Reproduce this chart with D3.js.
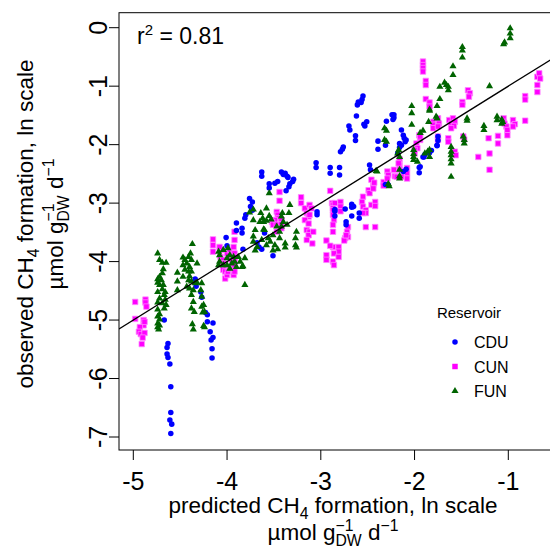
<!DOCTYPE html>
<html>
<head>
<meta charset="utf-8">
<script src="https://cdn.jsdelivr.net/npm/d3@7"></script>
<style>
  body { margin: 0; background: #fff; }
  svg text { font-family: "Liberation Sans", Arial, sans-serif; fill: #000; white-space: pre; }
</style>
</head>
<body>
<svg id="chart" width="550" height="547"></svg>
<script>
/*** DATA (predicted, observed) in ln units ***/

let cdu = [
  [-4.67,-5.00],[-4.63,-5.40],[-4.64,-5.47],[-4.64,-5.58],[-4.63,-5.64],[-4.61,-5.75],[-4.60,-6.14],[-4.60,-6.58],
  [-4.61,-6.71],[-4.59,-6.78],[-4.60,-6.94],[-4.34,-4.30],[-4.33,-4.42],[-4.28,-4.52],[-4.27,-4.61],[-4.23,-4.87],
  [-4.21,-4.91],[-4.21,-5.03],[-4.15,-5.05],[-4.18,-5.20],[-4.15,-5.30],[-4.17,-5.34],[-4.16,-5.49],[-4.16,-5.65],
  [-4.00,-3.73],[-3.63,-2.47],[-3.63,-2.54],[-3.55,-2.67],[-3.55,-2.74],[-3.49,-2.66],[-3.46,-2.63],[-3.42,-2.47],
  [-3.40,-2.51],[-3.38,-2.49],[-3.36,-2.54],[-3.35,-2.56],[-3.33,-2.67],[-3.34,-2.72],[-3.29,-2.59],[-3.30,-2.63],
  [-3.37,-2.79],[-3.05,-2.31],[-3.05,-2.39],[-2.90,-2.39],[-2.90,-2.49],[-2.80,-2.39],[-2.80,-2.52],[-3.76,-2.92],
  [-3.73,-2.98],[-3.75,-3.06],[-3.73,-3.12],[-3.80,-3.20],[-3.81,-3.26],[-3.90,-3.34],[-3.84,-3.43],[-3.84,-3.51],
  [-3.90,-3.47],[-4.01,-3.59],[-3.60,-3.51],[-3.68,-3.68],[-3.66,-3.75],[-3.63,-3.79],[-3.83,-3.79],[-3.51,-3.90],
  [-3.04,-3.15],[-3.04,-3.20],[-2.55,-1.17],[-2.56,-1.23],[-2.57,-1.28],[-2.61,-1.32],[-2.60,-1.27],[-2.62,-1.51],
  [-2.51,-1.61],[-2.53,-1.68],[-2.54,-1.65],[-2.70,-1.68],[-2.69,-1.75],[-2.63,-1.85],[-2.63,-1.93],[-2.76,-2.04],
  [-2.77,-2.08],[-2.79,-2.12],[-2.48,-2.35],[-2.47,-2.43],[-2.39,-1.94],[-2.39,-2.08],[-2.31,-2.01],[-2.30,-1.60],
  [-2.24,-1.49],[-2.22,-1.49],[-2.22,-1.54],[-2.23,-1.57],[-2.14,-1.75],[-2.12,-1.84],[-2.11,-1.89],[-2.09,-1.92],
  [-2.16,-1.98],[-2.14,-2.01],[-2.16,-2.05],[-2.10,-1.95],[-2.18,-2.15],[-2.09,-2.42],[-2.12,-2.46],[-1.95,-2.39],
  [-1.95,-2.48],[-2.28,-2.69],[-1.91,-2.21],[-2.85,-3.11],[-2.85,-3.14],[-2.85,-3.22],[-2.74,-3.10],[-2.67,-3.02],
  [-2.67,-3.07],[-2.65,-3.06],[-2.67,-3.22],[-2.73,-3.32],[-2.73,-3.37],[-2.59,-3.17],[-2.59,-3.26],[-2.31,-2.68],
  [-1.75,-1.86],[-1.75,-1.93],[-1.76,-2.01],[-1.76,-2.02],[-1.82,-2.10],[-1.84,-2.14],[-1.89,-2.17],[-1.90,-2.21],
  [-1.94,-2.38]
];

let cun = [
  [-4.98,-4.69],[-4.87,-4.65],[-4.87,-4.70],[-4.86,-4.77],[-4.98,-4.98],[-4.89,-5.00],[-4.89,-5.09],[-4.88,-5.03],
  [-4.93,-5.12],[-4.94,-5.20],[-4.92,-5.24],[-4.88,-5.22],[-4.90,-5.30],[-4.91,-5.41],
  [-4.15,-3.62],[-4.15,-3.72],[-4.15,-3.83],[-4.06,-3.80],[-4.07,-3.92],[-4.04,-3.97],[-4.04,-4.03],[-4.04,-4.14],
  [-4.02,-4.17],[-4.02,-4.29],[-4.00,-3.86],[-4.00,-4.23],[-3.99,-4.17],[-3.97,-3.80],[-3.97,-4.12],[-3.95,-3.97],
  [-3.95,-4.09],[-3.93,-3.86],[-3.93,-3.75],[-3.93,-4.23],[-3.92,-4.06],[-3.92,-3.49],[-3.92,-3.63],[-3.92,-3.86],
  [-3.92,-3.92],[-3.92,-3.97],[-3.92,-4.17],[-4.08,-3.75],
  [-3.44,-2.81],[-3.44,-2.96],[-3.47,-3.15],[-3.46,-3.20],[-3.45,-3.26],[-3.49,-3.29],[-3.52,-3.32],[-3.51,-3.37],
  [-3.47,-3.37],[-3.42,-3.29],[-3.42,-3.36],[-3.42,-3.43],[-3.47,-3.49],
  [-3.21,-2.90],[-3.21,-3.00],[-3.17,-3.09],[-3.15,-3.17],[-3.13,-3.23],[-3.12,-3.20],[-3.17,-3.29],[-3.13,-3.35],
  [-3.15,-3.46],[-3.12,-3.49],[-3.13,-3.55],[-3.09,-3.69],[-3.15,-3.63],[-3.08,-3.49],[-3.12,-3.03],[-3.10,-3.09],
  [-2.90,-2.79],[-2.88,-3.00],[-2.87,-3.03],[-2.85,-3.00],[-2.87,-3.09],[-2.87,-3.12],[-2.87,-3.20],[-2.86,-3.29],
  [-2.87,-3.37],[-2.87,-3.49],[-2.79,-2.98],[-2.79,-3.06],[-2.79,-3.14],[-2.94,-3.64],[-2.87,-3.75],[-2.81,-3.75],
  [-2.81,-3.83],[-2.86,-3.86],[-2.94,-3.89],[-2.94,-3.97],[-2.87,-4.00],[-2.86,-4.06],[-2.81,-3.92],[-2.90,-3.73],
  [-2.71,-3.41],[-2.72,-3.49],[-2.71,-3.58],[-2.74,-3.60],[-2.75,-3.64],[-2.73,-3.55],
  [-2.55,-2.89],[-2.56,-2.98],[-2.55,-3.06],[-2.52,-3.12],[-2.52,-3.17],[-2.55,-3.17],[-2.46,-3.03],[-2.42,-2.98],
  [-2.42,-3.05],[-2.52,-3.41],[-2.42,-3.41],[-2.49,-2.78],[-2.48,-2.83],[-2.44,-2.69],[-2.44,-2.75],[-2.46,-2.60],
  [-2.43,-2.65],
  [-2.33,-2.64],[-2.33,-2.70],[-2.29,-2.46],[-2.28,-2.52],[-2.29,-2.58],[-2.22,-2.43],[-2.21,-2.54],[-2.19,-2.55],
  [-2.16,-2.25],[-2.16,-2.35],[-2.17,-2.32],[-2.16,-2.43],[-2.14,-2.55],[-2.08,-2.40],[-2.08,-2.49],[-2.08,-2.58],
  [-1.91,-0.58],[-1.91,-0.64],[-1.91,-0.69],[-1.91,-0.75],[-1.88,-0.91],[-1.88,-0.98],[-1.88,-1.22],[-1.84,-1.28],
  [-1.84,-1.35],[-1.95,-1.84],[-1.94,-1.92],[-1.98,-1.98],[-1.97,-2.06],[-2.00,-2.09],[-2.00,-2.15],[-1.94,-1.86],
  [-1.80,-1.61],[-1.80,-1.66],[-1.80,-1.72],[-1.75,-1.55],[-1.74,-1.64],[-1.75,-1.69],[-1.75,-1.86],[-1.75,-1.92],
  [-1.63,-1.58],[-1.61,-1.64],[-1.59,-1.55],[-1.57,-1.61],[-1.58,-1.68],[-1.61,-1.72],[-1.64,-1.89],[-1.64,-1.95],
  [-1.57,-2.12],[-1.56,-2.18],
  [-1.49,-1.27],[-1.49,-1.32],[-1.43,-1.07],[-1.41,-1.12],[-1.42,-1.18],[-1.48,-1.86],[-1.47,-1.91],[-1.32,-2.21],
  [-1.21,-1.89],[-1.20,-2.15],[-1.20,-2.43],[-1.11,-1.85],[-1.11,-1.98],[-1.05,-1.55],[-1.05,-1.61],[-1.04,-1.64],
  [-1.02,-1.69],[-1.01,-1.75],[-1.01,-1.84],[-0.95,-1.58],[-0.93,-1.65],[-0.95,-1.69],[-0.82,-1.17],[-0.82,-1.23],
  [-0.82,-1.59],[-0.69,-0.84],[-0.67,-0.78],[-0.66,-0.87],[-0.69,-0.98],[-0.69,-1.10]
];

let fun = [
  [-4.74,-3.86],[-4.72,-3.97],[-4.69,-4.02],[-4.65,-4.02],[-4.68,-4.13],[-4.69,-4.20],[-4.72,-4.26],[-4.74,-4.30],
  [-4.70,-4.32],[-4.74,-4.36],[-4.72,-4.40],[-4.68,-4.40],[-4.69,-4.47],[-4.74,-4.52],[-4.66,-4.52],[-4.67,-4.57],
  [-4.72,-4.63],[-4.66,-4.65],[-4.74,-4.70],[-4.69,-4.71],[-4.65,-4.74],[-4.67,-4.80],[-4.74,-4.82],[-4.72,-4.90],
  [-4.74,-4.94],[-4.72,-4.99],[-4.74,-5.06],[-4.72,-5.09],[-4.74,-5.12],[-4.73,-5.16],
  [-4.37,-3.70],[-4.47,-3.93],[-4.45,-3.97],[-4.41,-3.92],[-4.39,-3.86],[-4.38,-3.97],[-4.43,-4.03],[-4.47,-4.06],
  [-4.40,-4.09],[-4.32,-4.03],[-4.45,-4.14],[-4.41,-4.17],[-4.38,-4.17],[-4.40,-4.25],[-4.47,-4.26],[-4.53,-4.19],
  [-4.53,-4.34],[-4.41,-4.32],[-4.38,-4.34],[-4.34,-4.37],[-4.32,-4.36],[-4.27,-4.37],[-4.43,-4.43],[-4.40,-4.46],
  [-4.36,-4.49],[-4.53,-4.49],[-4.28,-4.49],[-4.38,-4.57],[-4.27,-4.60],[-4.36,-4.69],[-4.25,-4.74],[-4.38,-4.80],
  [-4.35,-4.86],[-4.27,-4.77],[-4.24,-4.86],[-4.26,-4.87],[-4.25,-5.10],[-4.24,-5.12],[-4.37,-5.07],[-4.36,-5.16],
  [-4.09,-3.83],[-4.08,-3.89],[-4.04,-3.80],[-3.99,-3.77],[-3.97,-3.89],[-3.93,-3.92],[-4.00,-3.94],[-4.08,-4.00],
  [-4.09,-4.06],[-4.04,-4.06],[-4.00,-4.06],[-3.95,-4.03],[-3.92,-4.00],[-3.90,-4.09],[-3.97,-4.12],[-3.88,-3.92],
  [-3.86,-4.00],[-3.83,-4.08],[-3.81,-3.94],[-3.84,-4.09],[-3.81,-4.40],
  [-3.55,-2.83],[-3.64,-3.17],[-3.58,-3.09],[-3.62,-3.26],[-3.65,-3.32],[-3.61,-3.32],[-3.55,-3.22],[-3.53,-3.28],
  [-3.58,-3.30],[-3.72,-3.29],[-3.41,-3.17],[-3.42,-3.23],[-3.40,-3.32],[-3.34,-3.17],[-3.33,-3.03],[-3.36,-3.37],
  [-3.42,-3.40],[-3.70,-3.46],[-3.72,-3.57],[-3.72,-3.66],[-3.68,-3.75],[-3.70,-3.81],[-3.63,-3.63],[-3.60,-3.46],
  [-3.56,-3.60],[-3.54,-3.66],[-3.58,-3.72],[-3.51,-3.55],[-3.44,-3.60],[-3.49,-3.72],[-3.46,-3.79],[-3.51,-3.81],
  [-3.38,-3.69],[-3.38,-3.76],[-3.26,-3.49],[-3.27,-3.60],[-3.27,-3.72],[-3.26,-3.76],[-3.76,-3.16],[-3.72,-3.11],
  [-3.61,-3.45],[-3.44,-3.49],[-3.47,-3.40],
  [-0.98,-0.01],[-0.98,-0.10],[-0.98,-0.18],[-1.04,-0.25],[-1.05,-0.28],[-1.49,-0.33],[-1.49,-0.39],[-1.49,-0.51],
  [-1.59,-0.66],[-1.59,-0.81],[-1.68,-0.94],[-1.66,-0.98],[-1.64,-1.01],[-1.64,-1.07],[-1.73,-1.01],[-1.73,-1.22],
  [-1.76,-1.34],[-1.84,-1.40],[-1.84,-1.42],[-1.85,-1.61],[-1.77,-1.52],[-1.76,-1.55],[-1.91,-1.76],[-1.94,-1.80],
  [-2.03,-1.34],[-2.03,-1.46],[-2.03,-1.66],[-2.32,-1.72],[-2.30,-1.76],[-2.32,-1.92],[-2.30,-1.95],[-1.20,-1.00],
  [-1.44,-1.55],[-1.44,-1.59],[-1.12,-1.52],[-1.12,-1.58],[-1.07,-1.57],[-1.06,-1.61],[-1.07,-1.64],[-1.26,-1.68],
  [-1.26,-1.75],[-1.48,-1.86],[-1.47,-1.92],[-1.47,-1.98],[-1.61,-2.04],[-1.61,-2.12],[-1.61,-2.18],[-1.61,-2.25],
  [-1.61,-2.32],[-1.61,-2.55],[-1.89,-2.15],[-1.86,-2.12],[-1.84,-2.21],[-1.84,-2.09],[-2.01,-2.09],[-2.01,-2.16],
  [-2.01,-2.21],[-2.01,-2.26],[-1.97,-2.29],[-2.17,-2.09],[-2.18,-2.15],[-2.16,-2.21],[-2.41,-2.45],[-2.40,-2.46],
  [-2.16,-2.43],[-2.16,-2.54],[-2.16,-2.58],[-2.28,-2.67],[-2.27,-2.71]
];

let x_ticks = [-5, -4, -3, -2, -1];
let y_ticks = [0, -1, -2, -3, -4, -5, -6, -7];
let reservoirs = ["CDU", "CUN", "FUN"];
let r2_value = "0.81";

/*** SETUP ***/

let svg = d3.select("#chart");

// plot box (right side runs off the picture, as in the original)
let box = {left: 119, top: 12.7, right: 556, bottom: 450};

let x = d3.scaleLinear().domain([-5, -1]).range([133.3, 508.3]),
    y = d3.scaleLinear().domain([0, -7]).range([27.7, 437]);

let colour = d3.scaleOrdinal().domain(reservoirs).range(["#0000ff", "#ff00ff", "#006400"]);
let shape = d3.scaleOrdinal().domain(reservoirs)
    .range([d3.symbol(d3.symbolCircle, 24), d3.symbol(d3.symbolSquare, 30), d3.symbol(d3.symbolTriangle, 22)]);

// write a line of text with sub/superscripts, centred on 0
function rich_text(g, parts, size) {
    let inner = g.append("g");
    let pos = 0;
    parts.forEach((p) => {
        if (p.stack) {
            let a = inner.append("text").attr("x", pos).attr("y", -size * 0.4)
                .style("font-size", size * 0.7 + "px").text(p.stack[0]);
            let b = inner.append("text").attr("x", pos).attr("y", size * 0.28)
                .style("font-size", size * 0.7 + "px").text(p.stack[1]);
            pos += Math.max(a.node().getComputedTextLength(), b.node().getComputedTextLength());
        } else {
            let small = p.sub || p.sup;
            let t = inner.append("text").attr("x", pos)
                .attr("y", p.sub ? size * 0.28 : p.sup ? -size * 0.4 : 0)
                .style("font-size", (small ? size * 0.7 : size) + "px")
                .text(p.t);
            pos += t.node().getComputedTextLength();
        }
    });
    inner.attr("transform", `translate(${-pos / 2},0)`);
    return pos;
}

/*** AXES ***/

function render_axis() {
    // x ticks + labels
    let xg = svg.append("g").attr("id", "x-axis");
    xg.selectAll("line").data(x_ticks).enter().append("line")
        .attr("x1", (d) => x(d)).attr("x2", (d) => x(d))
        .attr("y1", box.bottom).attr("y2", box.bottom + 10)
        .attr("stroke", "#000").attr("stroke-width", 1);
    xg.selectAll("text").data(x_ticks).enter().append("text")
        .attr("x", (d) => x(d)).attr("y", 490)
        .attr("text-anchor", "middle")
        .style("font-size", "25px")
        .text((d) => d);

    // y ticks + labels (rotated, like R)
    let yg = svg.append("g").attr("id", "y-axis");
    yg.selectAll("line").data(y_ticks).enter().append("line")
        .attr("x1", box.left - 10).attr("x2", box.left)
        .attr("y1", (d) => y(d)).attr("y2", (d) => y(d))
        .attr("stroke", "#000").attr("stroke-width", 1);
    yg.selectAll("text").data(y_ticks).enter().append("text")
        .attr("transform", (d) => `translate(${box.left - 12}, ${y(d)}) rotate(-90)`)
        .attr("text-anchor", "middle")
        .style("font-size", "25px")
        .text((d) => d);

    // box
    svg.append("rect")
        .attr("x", box.left).attr("y", box.top)
        .attr("width", box.right - box.left).attr("height", box.bottom - box.top)
        .attr("fill", "none").attr("stroke", "#000").attr("stroke-width", 1);

    // x title
    let xt1 = svg.append("g").attr("transform", "translate(333, 513)");
    rich_text(xt1, [{t: "predicted CH"}, {t: "4", sub: true}, {t: " formation, ln scale"}], 22.5);
    let xt2 = svg.append("g").attr("transform", "translate(333, 540)");
    rich_text(xt2, [{t: "µmol g"}, {stack: ["\u22121", "DW"]}, {t: " d"}, {t: "\u22121", sup: true}], 22.5);

    // y title
    let yc = 224;
    let yt1 = svg.append("g").attr("transform", `translate(33, ${yc}) rotate(-90)`);
    rich_text(yt1, [{t: "observed CH"}, {t: "4", sub: true}, {t: " formation, ln scale"}], 22.5);
    let yt2 = svg.append("g").attr("transform", `translate(63, ${yc}) rotate(-90)`);
    rich_text(yt2, [{t: "µmol g"}, {stack: ["\u22121", "DW"]}, {t: " d"}, {t: "\u22121", sup: true}], 22.5);
}

/*** POINTS + 1:1 LINE ***/

function render_points() {
    svg.append("clipPath").attr("id", "plot-clip")
        .append("rect")
        .attr("x", box.left).attr("y", box.top)
        .attr("width", box.right - box.left).attr("height", box.bottom - box.top);

    let plot = svg.append("g").attr("clip-path", "url(#plot-clip)");

    let series = {CDU: cdu, CUN: cun, FUN: fun};
    ["CUN", "CDU", "FUN"].forEach((k) => {
        plot.append("g").selectAll("path")
            .data(series[k]).enter()
            .append("path")
            .attr("d", shape(k)())
            .attr("transform", (d) => `translate(${x(d[0])}, ${y(d[1])})`)
            .attr("fill", colour(k))
            .attr("stroke", k === "CUN" ? "#ff88ff" : "none")
            .attr("stroke-width", 0.8);
    });

    // 1:1 line
    let lo = x.invert(box.left), hi = x.invert(box.right);
    plot.append("line")
        .attr("x1", x(lo)).attr("y1", y(lo))
        .attr("x2", x(hi)).attr("y2", y(hi))
        .attr("stroke", "#000").attr("stroke-width", 1.3);
}

/*** ANNOTATION + LEGEND ***/

function render_legend() {
    let r2 = svg.append("text").attr("x", 137).attr("y", 44).style("font-size", "23px");
    r2.append("tspan").text("r");
    r2.append("tspan").attr("dy", -9).style("font-size", "15px").text("2");
    r2.append("tspan").attr("dy", 9).text(" = " + r2_value);

    let lg = svg.append("g").attr("id", "legend");
    lg.append("text").attr("x", 469).attr("y", 318)
        .attr("text-anchor", "middle").style("font-size", "15px").text("Reservoir");

    let items = lg.selectAll("g.item").data(reservoirs).enter()
        .append("g").classed("item", true)
        .attr("transform", (d, i) => `translate(455, ${342 + i * 24.5})`);
    items.append("path")
        .attr("d", (d) => shape(d)())
        .attr("fill", (d) => colour(d));
    items.append("text").attr("x", 19).attr("y", 6)
        .style("font-size", "16px").text((d) => d);
}

render_points();
render_axis();
render_legend();
</script>
</body>
</html>
